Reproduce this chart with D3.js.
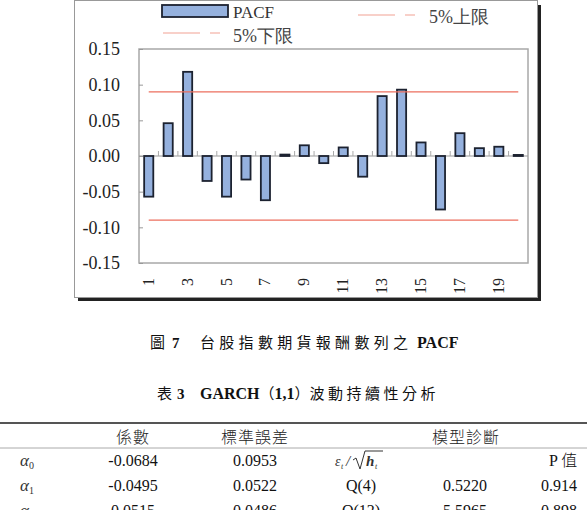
<!DOCTYPE html>
<html>
<head>
<meta charset="utf-8">
<script src="https://cdn.jsdelivr.net/npm/d3@7"></script>
<style>
  body { margin: 0; background: #fff; }
  svg { display: block; }
</style>
</head>
<body>
<script>
// chart data
var lags = d3.range(1, 21);
var pacf = [-0.057, 0.046, 0.118, -0.035, -0.057, -0.033, -0.062, 0.002, 0.015, -0.010,
            0.012, -0.029, 0.084, 0.093, 0.019, -0.075, 0.032, 0.011, 0.013, 0.0015];
var upperLimit = 0.09;
var lowerLimit = -0.09;
var yTicks = [-0.15, -0.10, -0.05, 0.00, 0.05, 0.10, 0.15];
var xTickLabels = [1, 3, 5, 7, 9, 11, 13, 15, 17, 19];

// table data
var tableHeader = ["係數", "標準誤差", "模型診斷"];
var coefNames = ["0", "1", "2"];
var coefValues = ["-0.0684", "-0.0495", "0.0515"];
var stdErrors = ["0.0953", "0.0522", "0.0486"];
var diagNames = ["", "Q(4)", "Q(12)"];
var diagStats = ["", "0.5220", "5.5965"];
var diagP = ["P 值", "0.914", "0.898"];

var W = 587, H = 510;
var serif = "'Liberation Serif', 'Times New Roman', serif";
var cjk = "'Noto Sans CJK TC', sans-serif";

var svg = d3.select("body").append("svg")
    .attr("width", W)
    .attr("height", H);

// outer chart frame with shadow
svg.append("rect").attr("x", 78).attr("y", 297).attr("width", 463).attr("height", 4).attr("fill", "#222");
svg.append("rect").attr("x", 537).attr("y", 5).attr("width", 4).attr("height", 296).attr("fill", "#222");
svg.append("rect").attr("x", 74.5).attr("y", 0.5).attr("width", 463).attr("height", 297)
    .attr("fill", "#fff").attr("stroke", "#999").attr("stroke-width", 1);

// plot area
var plot = {left: 139, right: 528, top: 49, bottom: 263};

var x = d3.scaleBand()
    .domain(lags)
    .range([plot.left, plot.right])
    .paddingInner(0.53)
    .paddingOuter(0.265);

var y = d3.scaleLinear()
    .domain([-0.15, 0.15])
    .range([plot.bottom, plot.top]);

svg.append("rect")
    .attr("x", plot.left).attr("y", plot.top)
    .attr("width", plot.right - plot.left).attr("height", plot.bottom - plot.top)
    .attr("fill", "#fff").attr("stroke", "#a8a8a8").attr("stroke-width", 1.5);

// y axis labels and inner ticks
var yAxis = svg.append("g")
    .attr("transform", "translate(" + plot.left + ",0)")
    .call(d3.axisLeft(y).tickValues(yTicks).tickSize(-4).tickPadding(19));
yAxis.select(".domain").remove();
yAxis.selectAll("line").attr("stroke", "#999");
yAxis.selectAll("text")
    .attr("font-family", serif).attr("font-size", 18).attr("fill", "#222")
    .text(function(d) { return d3.format(".2f")(d).replace("−", "-"); });

// zero axis with category separators
var step = x.step();
svg.append("line")
    .attr("x1", plot.left).attr("x2", plot.right)
    .attr("y1", y(0)).attr("y2", y(0))
    .attr("stroke", "#999").attr("stroke-width", 1);
svg.append("g").selectAll("line")
    .data(d3.range(1, lags.length))
    .join("line")
    .attr("x1", function(k) { return plot.left + k * step; })
    .attr("x2", function(k) { return plot.left + k * step; })
    .attr("y1", y(0)).attr("y2", y(0) - 5)
    .attr("stroke", "#aaa").attr("stroke-width", 1);

// bars
svg.append("g").selectAll("rect")
    .data(pacf)
    .join("rect")
    .attr("x", function(d, i) { return x(lags[i]); })
    .attr("y", function(d) { return y(Math.max(0, d)); })
    .attr("width", x.bandwidth())
    .attr("height", function(d) { return Math.max(1, Math.abs(y(d) - y(0))); })
    .attr("fill", "#95b1de")
    .attr("stroke", "#1c2230")
    .attr("stroke-width", 1.8);

// 5% limit lines
var lineX1 = x(lags[0]) + x.bandwidth() / 2;
var lineX2 = x(lags[lags.length - 1]) + x.bandwidth() / 2;
[upperLimit, lowerLimit].forEach(function(v) {
  svg.append("line")
      .attr("x1", lineX1).attr("x2", lineX2)
      .attr("y1", y(v)).attr("y2", y(v))
      .attr("stroke", "#ec6f5e").attr("stroke-width", 1.2);
});

// x labels (rotated)
svg.append("g").selectAll("text")
    .data(xTickLabels)
    .join("text")
    .attr("transform", function(d) {
      return "translate(" + (x(d) + x.bandwidth() / 2 + 5) + ",278) rotate(-90)";
    })
    .attr("text-anchor", "end")
    .attr("font-family", serif).attr("font-size", 16).attr("fill", "#222")
    .text(function(d) { return d; });

// legend
svg.append("rect").attr("x", 162).attr("y", 5).attr("width", 66).attr("height", 12)
    .attr("fill", "#95b1de").attr("stroke", "#1c2230").attr("stroke-width", 1.8);
svg.append("text").attr("x", 233).attr("y", 18)
    .attr("font-family", serif).attr("font-size", 17).attr("fill", "#333").text("PACF");

function legendLine(x0, y0) {
  svg.append("line").attr("x1", x0).attr("x2", x0 + 57).attr("y1", y0).attr("y2", y0)
      .attr("stroke", "#f1a193").attr("stroke-width", 1.2)
      .attr("stroke-dasharray", "37,10,10,0");
}
legendLine(358, 15);
svg.append("text").attr("x", 429).attr("y", 23)
    .attr("font-family", serif).attr("font-size", 18).attr("fill", "#444").text("5%上限");
legendLine(163, 33);
svg.append("text").attr("x", 233).attr("y", 42)
    .attr("font-family", serif).attr("font-size", 18).attr("fill", "#444").text("5%下限");

// captions
var cap1 = svg.append("text").attr("y", 348).attr("font-size", 15).attr("fill", "#111");
cap1.append("tspan").attr("x", 150).attr("font-family", cjk).text("圖");
cap1.append("tspan").attr("x", 172).attr("font-family", serif).attr("font-weight", "bold").text("7");
cap1.append("tspan").attr("x", 200).attr("font-family", cjk).attr("letter-spacing", 4.3).text("台股指數期貨報酬數列之");
cap1.append("tspan").attr("x", 417).attr("font-family", serif).attr("font-weight", "bold").attr("font-size", 16).text("PACF");

var cap2 = svg.append("text").attr("y", 399).attr("font-size", 15).attr("fill", "#111");
cap2.append("tspan").attr("x", 157).attr("font-family", cjk).text("表");
cap2.append("tspan").attr("x", 177).attr("font-family", serif).attr("font-weight", "bold").text("3");
cap2.append("tspan").attr("x", 200).attr("font-family", serif).attr("font-weight", "bold").attr("font-size", 16).text("GARCH");
cap2.append("tspan").attr("font-family", cjk).text("（");
cap2.append("tspan").attr("font-family", serif).attr("font-weight", "bold").attr("font-size", 16).text("1,1");
cap2.append("tspan").attr("font-family", cjk).text("）");
cap2.append("tspan").attr("font-family", cjk).attr("letter-spacing", 3.5).text("波動持續性分析");

// table rules
svg.append("line").attr("x1", 0).attr("x2", W).attr("y1", 423).attr("y2", 423)
    .attr("stroke", "#555").attr("stroke-width", 2);
svg.append("line").attr("x1", 0).attr("x2", W).attr("y1", 448).attr("y2", 448)
    .attr("stroke", "#aaa").attr("stroke-width", 1);

// table header
var headerX = [133, 255, 466];
svg.append("g").selectAll("text")
    .data(tableHeader)
    .join("text")
    .attr("x", function(d, i) { return headerX[i]; })
    .attr("y", 443)
    .attr("text-anchor", "middle")
    .attr("font-family", cjk).attr("font-weight", 300).attr("font-size", 16)
    .attr("letter-spacing", 1).attr("fill", "#222")
    .text(function(d) { return d; });

// table rows
var rowY = [466, 491, 516];
coefNames.forEach(function(sub, i) {
  var a = svg.append("text").attr("x", 20).attr("y", rowY[i])
      .attr("font-family", serif).attr("fill", "#333");
  a.append("tspan").attr("font-style", "italic").attr("font-size", 17).text("α");
  a.append("tspan").attr("font-size", 10).attr("dy", 3).text(sub);

  svg.append("text").attr("x", 133).attr("y", rowY[i]).attr("text-anchor", "middle")
      .attr("font-family", serif).attr("font-size", 16).attr("fill", "#111").text(coefValues[i]);
  svg.append("text").attr("x", 255).attr("y", rowY[i]).attr("text-anchor", "middle")
      .attr("font-family", serif).attr("font-size", 16).attr("fill", "#111").text(stdErrors[i]);
  if (diagNames[i]) {
    svg.append("text").attr("x", 361).attr("y", rowY[i]).attr("text-anchor", "middle")
        .attr("font-family", serif).attr("font-size", 16).attr("fill", "#111").text(diagNames[i]);
  }
  if (diagStats[i]) {
    svg.append("text").attr("x", 465).attr("y", rowY[i]).attr("text-anchor", "middle")
        .attr("font-family", serif).attr("font-size", 16).attr("fill", "#111").text(diagStats[i]);
  }
  var p = svg.append("text").attr("x", i === 0 ? 549 : 541).attr("y", rowY[i])
      .attr("font-size", 16).attr("fill", "#111");
  if (i === 0) {
    p.append("tspan").attr("font-family", serif).text("P ");
    p.append("tspan").attr("font-family", cjk).attr("font-weight", 300).text("值");
  } else {
    p.attr("font-family", serif).text(diagP[i]);
  }
});

// residual label: ε_t / √h_t
var eps = svg.append("g").attr("font-family", serif).attr("fill", "#333");
eps.append("text").attr("x", 335).attr("y", 466).attr("font-style", "italic").attr("font-size", 14).text("ε");
eps.append("text").attr("x", 341).attr("y", 469).attr("font-style", "italic").attr("font-size", 8).text("t");
eps.append("text").attr("x", 346).attr("y", 466).attr("font-style", "italic").attr("font-size", 15).text("/");
eps.append("path").attr("d", "M353,460 L356,458 L360,469 L365,451 L383,451")
    .attr("fill", "none").attr("stroke", "#333").attr("stroke-width", 1);
eps.append("text").attr("x", 366).attr("y", 466).attr("font-style", "italic").attr("font-weight", "bold").attr("font-size", 15).text("h");
eps.append("text").attr("x", 375).attr("y", 469).attr("font-style", "italic").attr("font-size", 8).text("t");
</script>
</body>
</html>
